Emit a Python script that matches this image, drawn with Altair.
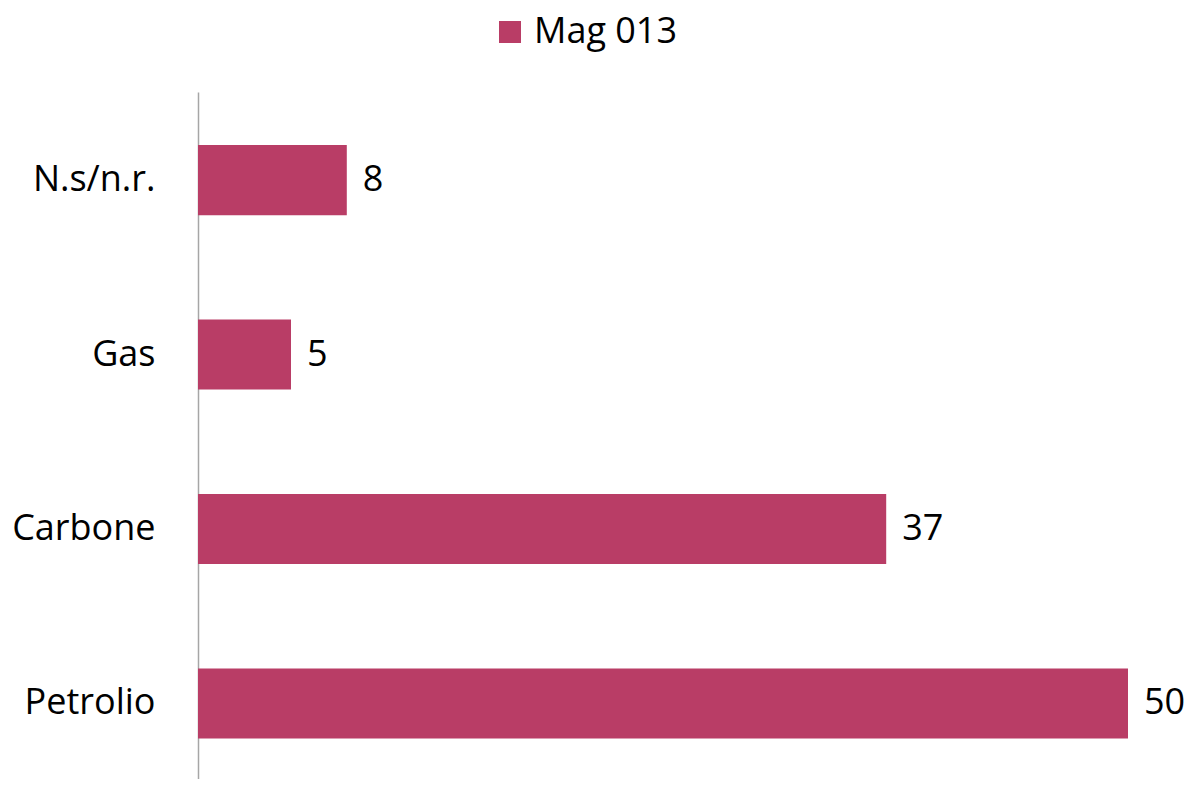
import altair as alt
import pandas as pd

categories = ["N.s/n.r.", "Gas", "Carbone", "Petrolio"]
values = [8, 5, 37, 50]
series_name = "Mag 013"
bar_color = "#B93D66"

df = pd.DataFrame({"cat": categories, "val": values, "series": [series_name] * len(categories)})

y_enc = alt.Y(
    "cat:N",
    sort=categories,
    scale=alt.Scale(paddingInner=0.598, paddingOuter=0.268, align=0.567),
    axis=alt.Axis(
        title=None,
        ticks=False,
        grid=False,
        domainColor="#a6a6a6",
        domainWidth=1.5,
        labelFontSize=36,
        labelFont="Open Sans",
        labelColor="#000000",
        labelPadding=43,
    ),
)
x_enc = alt.X("val:Q", scale=alt.Scale(domain=[0, 50], nice=False), axis=None)

bars = alt.Chart(df).mark_bar().encode(
    x=x_enc,
    y=y_enc,
    color=alt.Color(
        "series:N",
        scale=alt.Scale(range=[bar_color]),
        legend=alt.Legend(
            title=None,
            orient="none",
            legendX=294,
            legendY=-78,
            symbolType="square",
            symbolSize=484,
            symbolStrokeWidth=0,
            labelFontSize=36,
            labelFont="Open Sans",
            labelColor="#000000",
            labelOffset=6,
            labelLimit=400,
            padding=0,
        ),
    ),
)

labels = alt.Chart(df).mark_text(
    align="left", baseline="middle", dx=16, font="Open Sans", fontSize=36, color="#000000"
).encode(x=x_enc, y=y_enc, text="val:Q")

chart = (
    alt.layer(bars, labels)
    .properties(
        width=930,
        height=687,
        autosize=alt.AutoSizeParams(type="none"),
        padding={"left": 190, "top": 84, "right": 57, "bottom": 0},
        view=alt.ViewBackground(strokeOpacity=0, strokeWidth=0),
    )
    .configure_view(strokeOpacity=0, strokeWidth=0)
    .configure(background="white")
)

chart.save("out.html", embed_options={"renderer": "svg", "actions": False})
